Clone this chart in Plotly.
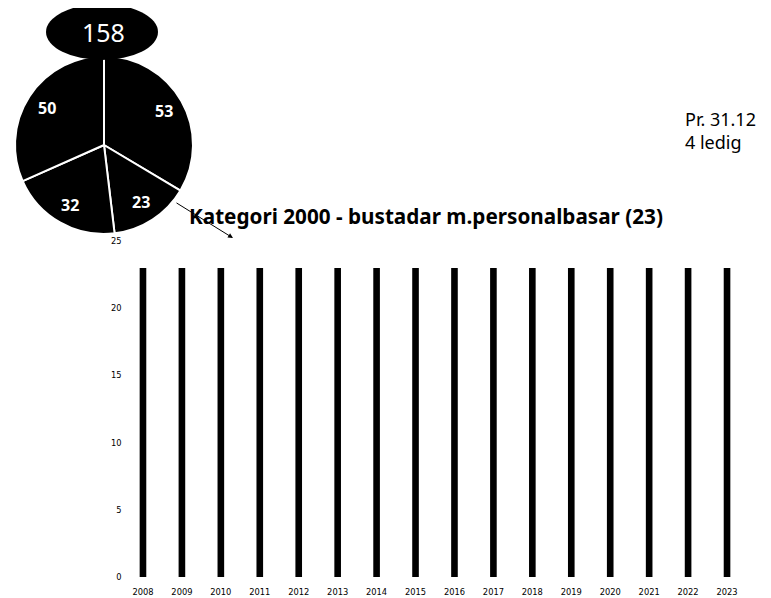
import math
import plotly.graph_objects as go

# ---- data ----
years = [str(y) for y in range(2008, 2024)]
units = [23] * 16
pie_labels = ["Del 1", "Kategori 2000", "Del 3", "Del 4"]
pie_values = [53, 23, 32, 50]
total_label = "158"
title_text = "Kategori 2000 - bustadar m.personalbasar (23)"
note_lines = ["Pr. 31.12", "4 ledig"]
y_ticks = [0, 5, 10, 15, 20, 25]

# page has an 8px body margin, so the figure is drawn 8px in from the corner
OFF = 8
W, H = 771 - OFF, 598 - OFF
FONT = "Noto Sans"
TICKFONT = "DejaVu Sans"


def px(x):
    return (x - OFF) / W


def py(y):
    return 1 - (y - OFF) / H


fig = go.Figure()

fig.add_trace(go.Bar(
    x=years, y=units, width=0.17,
    marker=dict(color="black", line=dict(width=0)),
    xaxis="x", yaxis="y", showlegend=False, hoverinfo="x+y",
))

# pie geometry (pixels of the reference)
PCX, PCY, PR = 104, 145, 89
fig.add_trace(go.Pie(
    labels=pie_labels, values=pie_values, sort=False,
    direction="clockwise", rotation=0,
    marker=dict(colors=["black"] * 4, line=dict(color="white", width=2)),
    textinfo="none",
    domain=dict(x=[px(PCX - PR), px(PCX + PR)], y=[py(PCY + PR), py(PCY - PR)]),
    showlegend=False,
))

fig.update_layout(
    width=W, height=H,
    margin=dict(l=0, r=0, t=0, b=0),
    paper_bgcolor="white", plot_bgcolor="white",
    font=dict(family=FONT, color="black"),
    xaxis=dict(domain=[px(123.5), px(746.5)], type="category",
               showline=False, showgrid=False, zeroline=False, ticks="",
               tickfont=dict(size=8.3, family=TICKFONT),
               ticklabelstandoff=9, automargin=False),
    yaxis=dict(domain=[py(577), py(241)], range=[0, 25],
               tickvals=y_ticks, showline=False, showgrid=False, zeroline=False,
               ticks="", tickfont=dict(size=8.3, family=TICKFONT),
               ticklabelstandoff=1, automargin=False),
    bargap=0.8,
)

shapes = [dict(type="circle", xref="paper", yref="paper",
               x0=px(46), x1=px(158), y0=py(60), y1=py(4),
               fillcolor="black", line=dict(color="black", width=0), layer="above")]
fig.update_layout(shapes=shapes)

annotations = []
# slice value labels, placed along each slice's mid angle
total = sum(pie_values)
cum = 0
for v in pie_values:
    mid = (cum + v / 2) / total * 2 * math.pi
    cum += v
    lx = PCX + 0.77 * PR * math.sin(mid)
    ly = PCY - 0.77 * PR * math.cos(mid)
    annotations.append(dict(text=str(v), xref="paper", yref="paper",
                            x=px(lx), y=py(ly), showarrow=False,
                            font=dict(color="white", size=16, family=FONT, weight="bold"),
                            xanchor="center", yanchor="middle"))

annotations += [
    dict(text=total_label, xref="paper", yref="paper", x=px(104), y=py(32),
         showarrow=False, font=dict(color="white", size=25, family=FONT),
         xanchor="center", yanchor="middle"),
    dict(text=title_text, xref="paper", yref="paper", x=px(187), y=py(216),
         showarrow=False, font=dict(size=20.7, family=FONT, weight="bold"),
         xanchor="left", yanchor="middle"),
    dict(text="", xref="paper", yref="paper", x=px(233), y=py(238),
         ax=-58, ay=-36, showarrow=True, arrowhead=2, arrowsize=1,
         arrowwidth=1, arrowcolor="black"),
    dict(text="<br>".join(note_lines), xref="paper", yref="paper",
         x=px(683), y=py(131), showarrow=False,
         font=dict(size=18, family=FONT), align="left",
         xanchor="left", yanchor="middle"),
]
fig.update_layout(annotations=annotations)

fig.write_html("out.html")
